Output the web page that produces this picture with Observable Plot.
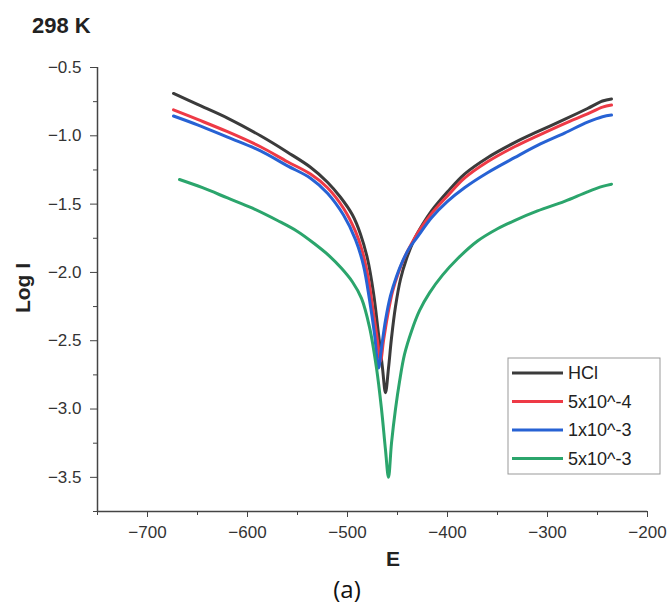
<!DOCTYPE html>
<html><head><meta charset="utf-8">
<script src="https://cdn.jsdelivr.net/npm/d3@7"></script>
<script src="https://cdn.jsdelivr.net/npm/@observablehq/plot@0.6"></script>
<style>
body{margin:0;background:#fff;}
#chart{position:relative;width:670px;height:604px;}
</style></head><body><div id="chart"></div>
<script>
const seriesNames = ["HCl","5x10^-4","1x10^-3","5x10^-3"];
const seriesColors = ["#3b3b3b","#ee3a46","#2762d4","#2ba56c"];

const hclE = [-674,-650,-620,-587,-560,-537,-520,-507,-495,-487,-480,-474,-469,-465,-462,-459,-456,-452,-447,-441,-434,-425,-416,-400,-383,-360,-333,-310,-283,-260,-245,-236];
const hclLogI = [-0.69,-0.77,-0.87,-1.0,-1.12,-1.23,-1.34,-1.45,-1.58,-1.72,-1.9,-2.15,-2.45,-2.7,-2.88,-2.7,-2.48,-2.25,-2.05,-1.9,-1.77,-1.65,-1.55,-1.41,-1.28,-1.16,-1.05,-0.97,-0.88,-0.8,-0.745,-0.73];

const c54E = [-674,-650,-620,-587,-560,-537,-520,-504,-492,-485,-479,-474,-470,-467,-464,-460,-455,-449,-443,-436,-428,-416,-400,-383,-360,-333,-310,-283,-260,-245,-236];
const c54LogI = [-0.81,-0.88,-0.97,-1.08,-1.19,-1.28,-1.38,-1.53,-1.7,-1.85,-2.05,-2.3,-2.5,-2.65,-2.5,-2.32,-2.14,-2.0,-1.89,-1.79,-1.69,-1.57,-1.44,-1.31,-1.19,-1.08,-1.0,-0.91,-0.84,-0.79,-0.775];

const c13E = [-674,-650,-620,-587,-560,-537,-520,-504,-492,-484,-478,-473,-469,-466,-462,-457,-451,-445,-438,-430,-416,-400,-383,-360,-333,-310,-283,-260,-245,-236];
const c13LogI = [-0.855,-0.92,-1.01,-1.11,-1.22,-1.31,-1.42,-1.58,-1.76,-1.95,-2.2,-2.45,-2.7,-2.55,-2.35,-2.17,-2.03,-1.92,-1.82,-1.74,-1.6,-1.48,-1.38,-1.27,-1.16,-1.07,-0.98,-0.9,-0.86,-0.848];

const c53E = [-668,-645,-620,-595,-570,-550,-533,-518,-506,-495,-486,-478,-471,-466,-462,-459,-456,-452,-448,-443,-436,-428,-418,-405,-390,-370,-350,-333,-310,-283,-260,-245,-236];
const c53LogI = [-1.32,-1.38,-1.455,-1.53,-1.62,-1.7,-1.79,-1.88,-1.97,-2.07,-2.19,-2.4,-2.7,-3.0,-3.3,-3.5,-3.25,-3.0,-2.8,-2.6,-2.43,-2.28,-2.15,-2.02,-1.9,-1.77,-1.68,-1.62,-1.55,-1.48,-1.41,-1.37,-1.354];

const xTicks = [-700,-600,-500,-400,-300,-200];
const xMinorTicks = [-750,-650,-550,-450,-350,-250];
const yTicks = [-3.5,-3.0,-2.5,-2.0,-1.5,-1.0,-0.5];
const yMinorTicks = [-3.75,-3.25,-2.75,-2.25,-1.75,-1.25,-0.75];

const titleText = "298 K";
const xLabel = "E";
const yLabel = "Log I";
const captionText = "(a)";

const seriesE = [hclE, c54E, c13E, c53E];
const seriesLogI = [hclLogI, c54LogI, c13LogI, c53LogI];
const data = seriesNames.flatMap((name, i) => seriesE[i].map((e, j) => ({series: name, E: e, logI: seriesLogI[i][j]})));

const fmtY = d => d3.format(".1f")(d);
const fmtX = d => d3.format("d")(d);

const plot = Plot.plot({
  width: 670, height: 604,
  marginLeft: 97, marginRight: 23, marginTop: 67, marginBottom: 93,
  style: {fontFamily: "'Liberation Sans', Arial, sans-serif", fontSize: "17px", color: "#333", background: "#fff"},
  x: {domain: [-750, -200]},
  y: {domain: [-3.75, -0.5]},
  color: {domain: seriesNames, range: seriesColors},
  marks: [
    Plot.axisX({ticks: xTicks, tickSize: 6, tickPadding: 8, tickFormat: fmtX, label: null, fontSize: 17, stroke: "#444"}),
    Plot.axisX({ticks: xMinorTicks, tickSize: 4, tickFormat: () => "", label: null, stroke: "#444"}),
    Plot.axisY({ticks: yTicks, tickSize: 7, tickPadding: 9, tickFormat: fmtY, label: null, fontSize: 17, stroke: "#444"}),
    Plot.axisY({ticks: yMinorTicks, tickSize: 4, tickFormat: () => "", label: null, stroke: "#444"}),
    Plot.ruleX([-750], {stroke: "#444", strokeWidth: 1.5}),
    Plot.ruleY([-3.75], {stroke: "#444", strokeWidth: 1.5}),
    Plot.line(data, {x: "E", y: "logI", z: "series", stroke: "series", strokeWidth: 3, curve: "catmull-rom"})
  ]
});
document.getElementById("chart").appendChild(plot);

const svg = d3.select(plot);
const sans = "'Liberation Sans', Arial, sans-serif";
svg.append("text").attr("x", 32).attr("y", 33).attr("text-anchor", "start")
  .attr("font-family", sans).attr("font-weight", "bold").attr("font-size", 22).attr("fill", "#222")
  .text(titleText);
svg.append("text").attr("transform", "translate(30,288) rotate(-90)").attr("text-anchor", "middle")
  .attr("font-family", sans).attr("font-weight", "bold").attr("font-size", 21).attr("fill", "#222")
  .text(yLabel);
svg.append("text").attr("x", 393).attr("y", 566).attr("text-anchor", "middle")
  .attr("font-family", sans).attr("font-weight", "bold").attr("font-size", 21).attr("fill", "#222")
  .text(xLabel);
svg.append("text").attr("x", 347).attr("y", 598).attr("text-anchor", "middle")
  .attr("font-family", "'Open Sans', sans-serif").attr("font-size", 24).attr("fill", "#111")
  .text(captionText);

const lg = svg.append("g");
lg.append("rect").attr("x", 508).attr("y", 358).attr("width", 152).attr("height", 116)
  .attr("fill", "#fff").attr("stroke", "#999").attr("stroke-width", 1);
seriesNames.forEach((name, i) => {
  const cy = 373 + i * 28.5;
  lg.append("line").attr("x1", 512).attr("x2", 563).attr("y1", cy).attr("y2", cy)
    .attr("stroke", seriesColors[i]).attr("stroke-width", 3);
  lg.append("text").attr("x", 568).attr("y", cy).attr("dy", "0.35em").attr("text-anchor", "start")
    .attr("font-family", sans).attr("font-size", 18).attr("fill", "#222")
    .text(name);
});
</script></body></html>
